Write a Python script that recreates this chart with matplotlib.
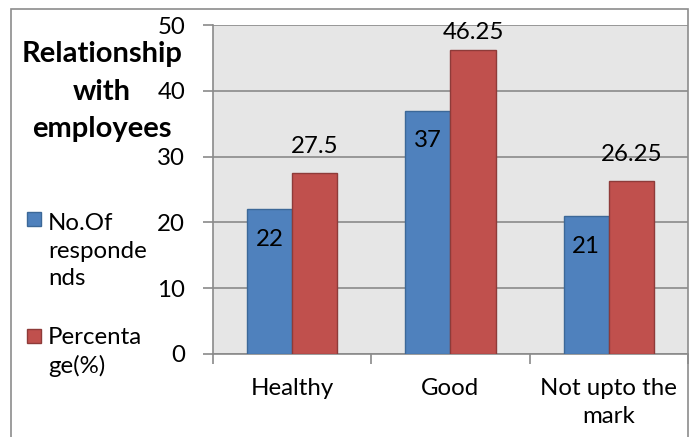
import matplotlib
matplotlib.use("Agg")
import matplotlib.pyplot as plt
from matplotlib.patches import Rectangle
import numpy as np

categories = ["Healthy", "Good", "Not upto the\nmark"]
respondents = [22, 37, 21]
percentage = [27.5, 46.25, 26.25]
series_names = ["No.Of\nresponde\nnds", "Percenta\nge(%)"]
yticks = [0, 10, 20, 30, 40, 50]
title_lines = ["Relationship", "with", "employees"]

blue, blue_edge = "#4f81bd", "#3c6898"
red, red_edge = "#c0504d", "#8e3b39"
grid_col = "#8a8a8a"
font = "Lato"
fs = 17.3

fig = plt.figure(figsize=(6.96, 4.37), dpi=100)
W, H = 696, 437

def fx(px):
    return px / W

def fy(py):
    return 1 - py / H

# outer chart border
fig.patches.append(Rectangle((fx(11), fy(445)), fx(688) - fx(11), fy(9) - fy(445),
                             transform=fig.transFigure, fill=False,
                             edgecolor="#8c8c8c", linewidth=1.2))

ax = fig.add_axes([fx(213), fy(354), fx(688) - fx(213), fy(25) - fy(354)])
ax.set_facecolor("#e6e6e6")

x = np.arange(len(categories))
w = 1 / 3.5
ax.bar(x - w / 2, respondents, w, color=blue, edgecolor=blue_edge, linewidth=1, zorder=3)
ax.bar(x + w / 2, percentage, w, color=red, edgecolor=red_edge, linewidth=1, zorder=3)

ax.set_xlim(-0.5, 2.5)
ax.set_ylim(0, 50)
ax.set_yticks(yticks)
ax.set_yticklabels([str(t) for t in yticks], fontsize=fs, family=font)
ax.yaxis.grid(True, color=grid_col, linewidth=1.2, zorder=0)
ax.set_axisbelow(True)
ax.tick_params(axis="y", length=7, width=1.2, color=grid_col, pad=13)

ax.set_xticks(x)
ax.set_xticklabels(categories, fontsize=fs, family=font, linespacing=1.42)
ax.tick_params(axis="x", length=0, pad=17)
ax.set_xticks([-0.5, 0.5, 1.5, 2.5], minor=True)
ax.tick_params(axis="x", which="minor", length=7, width=1.2, color=grid_col)

for s in ["top", "right"]:
    ax.spines[s].set_visible(False)
for s in ["left", "bottom"]:
    ax.spines[s].set_color(grid_col)
    ax.spines[s].set_linewidth(1.2)

# value labels
for xi, v in zip(x, respondents):
    ax.text(xi - w / 2, v - 4.6, f"{v:g}", ha="center", va="center",
            fontsize=fs, family=font, zorder=4)
for xi, v in zip(x, percentage):
    ax.text(xi + w / 2, min(v + 4.0, 48.9), f"{v:g}", ha="center", va="center",
            fontsize=fs, family=font, zorder=4)

# title on the left, one text per line
for line, base in zip(title_lines, [62, 100, 137]):
    fig.text(fx(102), fy(base), line, ha="center", va="baseline", fontsize=21,
             fontweight="bold", family=font)

# legend on the left
fig.patches.append(Rectangle((fx(27), fy(226)), fx(14), fy(212) - fy(226),
                             transform=fig.transFigure, facecolor=blue,
                             edgecolor=blue_edge, linewidth=1))
fig.patches.append(Rectangle((fx(27), fy(343)), fx(14), fy(329) - fy(343),
                             transform=fig.transFigure, facecolor=red,
                             edgecolor=red_edge, linewidth=1))
fig.text(fx(48), fy(251), series_names[0], ha="left", va="center",
         fontsize=fs, family=font, linespacing=1.37)
fig.text(fx(48), fy(352), series_names[1], ha="left", va="center",
         fontsize=fs, family=font, linespacing=1.37)

fig.savefig("out.png", dpi=100)
